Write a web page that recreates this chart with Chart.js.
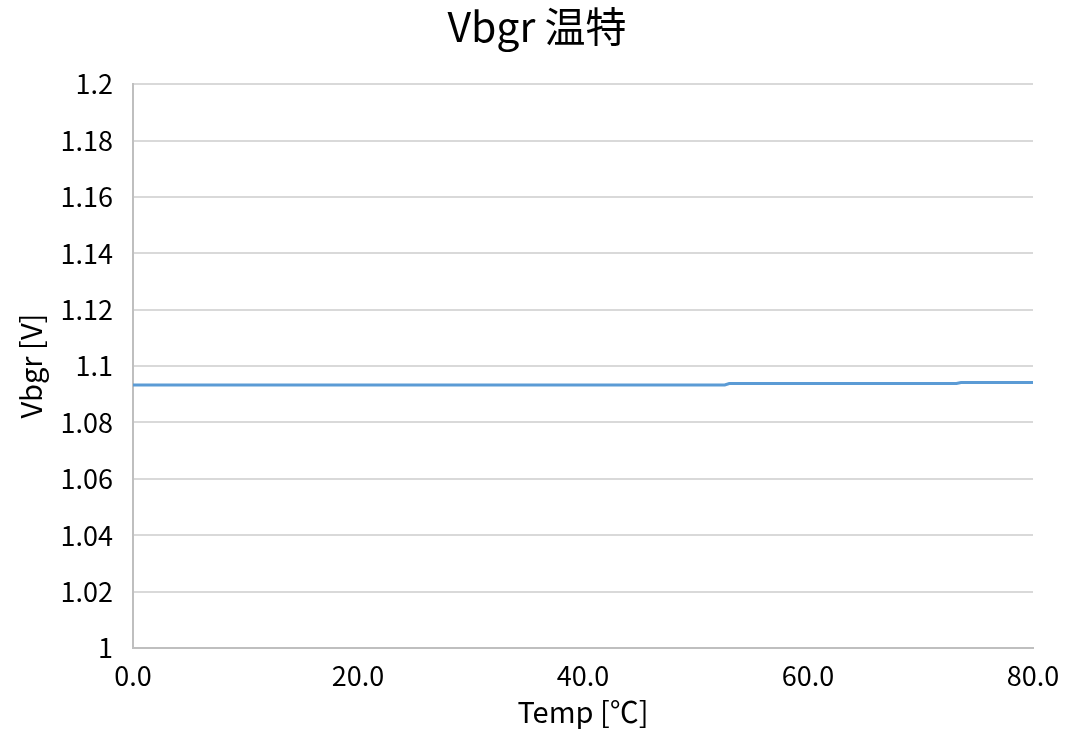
<!DOCTYPE html>
<html lang="ja">
<head>
  <meta charset="UTF-8" />
  <title>Vbgr 温特</title>
  <script src="https://cdn.jsdelivr.net/npm/chart.js@4.4.1/dist/chart.umd.min.js"></script>
  <style>html,body{margin:0;padding:0;background:#fff}</style>
</head>
<body>
<canvas id="chart" width="1068" height="729"></canvas>
<script>
  // measured Vbgr vs. temperature
  const temps = [0, 10, 20, 30, 40, 50, 52.6, 53.0, 60, 70, 73.2, 73.6, 80];
  const vbgr  = [1.0933, 1.0933, 1.0933, 1.0933, 1.0933, 1.0933, 1.0933, 1.0938, 1.0938, 1.0938, 1.0938, 1.0942, 1.0942];
  const yTicks = [1, 1.02, 1.04, 1.06, 1.08, 1.1, 1.12, 1.14, 1.16, 1.18, 1.2];
  const xTicks = [0, 20, 40, 60, 80];

  const FONT = '"Noto Sans CJK JP", "Noto Sans", sans-serif';
  const points = temps.map((t, i) => ({x: t, y: vbgr[i]}));

  new Chart(document.getElementById('chart'), {
    type: 'scatter',
    data: {
      datasets: [{
        data: points,
        showLine: true,
        borderColor: '#5b9bd5',
        borderWidth: 3,
        pointRadius: 0,
        tension: 0
      }]
    },
    options: {
      responsive: false,
      animation: false,
      layout: {padding: {left: 6, right: 0, top: 0, bottom: 0}},
      plugins: {
        legend: {display: false},
        tooltip: {enabled: false},
        title: {
          display: true,
          text: 'Vbgr 温特',
          color: '#000',
          font: {family: FONT, size: 41, weight: 'normal'},
          padding: {top: 2, bottom: 33}
        }
      },
      scales: {
        x: {
          type: 'linear',
          min: 0, max: 80,
          afterBuildTicks: axis => { axis.ticks = xTicks.map(v => ({value: v})); },
          // fixed axis band height; right gap leaves room for the "80.0" label
          afterFit: axis => { axis.height = 81; axis.paddingRight = 35; },
          ticks: {
            color: '#000',
            font: {family: FONT, size: 27},
            padding: 12,
            maxRotation: 0,
            callback: v => v.toFixed(1)
          },
          grid: {display: false, drawTicks: false},
          border: {color: '#bfbfbf', width: 2},
          title: {
            display: true,
            text: 'Temp [℃]',
            color: '#000',
            font: {family: FONT, size: 29},
            padding: {top: 0, bottom: 0}
          }
        },
        y: {
          min: 1, max: 1.2,
          afterBuildTicks: axis => { axis.ticks = yTicks.map(v => ({value: v})); },
          afterFit: axis => { axis.width = 127; },
          ticks: {
            color: '#000',
            font: {family: FONT, size: 27},
            padding: 20,
            callback: v => String(Math.round(v * 100) / 100)
          },
          grid: {color: '#d9d9d9', lineWidth: 2, drawTicks: false},
          border: {color: '#bfbfbf', width: 2},
          title: {
            display: true,
            text: 'Vbgr [V]',
            color: '#000',
            font: {family: FONT, size: 29},
            padding: {top: 8, bottom: 0}
          }
        }
      }
    }
  });
</script>
</body>
</html>
